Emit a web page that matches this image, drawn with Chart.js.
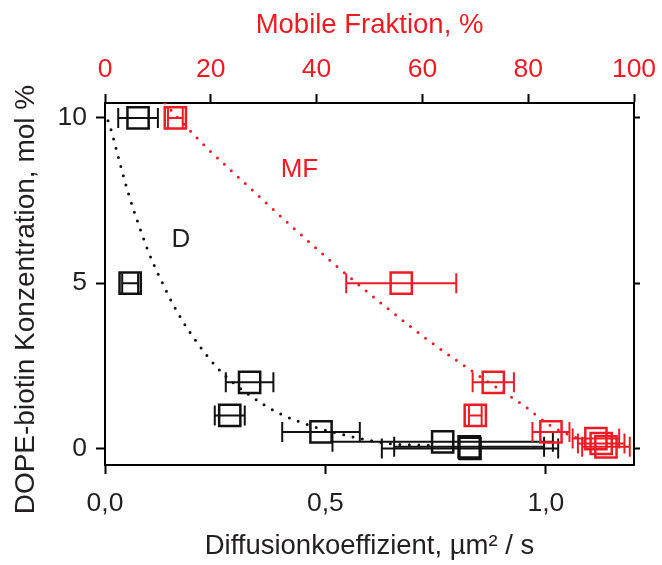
<!DOCTYPE html>
<html>
<head>
<meta charset="utf-8">
<script src="https://cdn.jsdelivr.net/npm/chart.js@4.4.1/dist/chart.umd.min.js"></script>
<style>
  html, body { margin: 0; padding: 0; background: #fff; }
</style>
</head>
<body>
<canvas id="graphique" width="662" height="565"></canvas>
<script>
// Diffusionskoeffizient D (untere Achse)
const dKonz   = [10, 5, 2, 1, 0.5, 0.2, 0, 0.05];
const dWerte  = [0.075, 0.057, 0.328, 0.283, 0.49, 0.766, 0.828, 0.826];
const dFehler = [0.045, 0.018, 0.054, 0.034, 0.088, 0.25, 0.2, 0.17];

// Mobile Fraktion MF (obere Achse)
const mfKonz   = [10, 5, 2, 1, 0.5, 0.3, 0.15, 0.05];
const mfWerte  = [13.3, 56.0, 73.4, 70.0, 84.3, 92.8, 93.8, 94.7];
const mfFehler = [1.4, 10.4, 3.9, 1.2, 3.5, 4.4, 4.4, 4.5];

// gepunktete Anpassungskurven
const dKurveX = [0.0068, 0.0136, 0.036, 0.054, 0.075, 0.097, 0.124, 0.163, 0.21, 0.267, 0.335, 0.391, 0.471, 0.559, 0.645, 0.74];
const dKurveY = [9.91, 9.64, 8.52, 7.67, 6.82, 6.0, 5.18, 4.15, 3.18, 2.27, 1.55, 1.09, 0.67, 0.36, 0.15, 0.09];
const mfKurveX = [11.3, 13.8, 18.9, 26.8, 34.8, 43.1, 52.7, 61.4, 70.3, 79.4, 84.1, 88.5, 92.0];
const mfKurveY = [10.45, 10.0, 9.15, 7.97, 6.79, 5.61, 4.33, 3.24, 2.24, 1.27, 0.70, 0.36, 0.15];

// Achsenbeschriftung
const xTicks = [0, 0.5, 1.0];
const xTickLabels = ['0,0', '0,5', '1,0'];
const x2Ticks = [0, 20, 40, 60, 80, 100];
const yTicks = [0, 5, 10];

const ROT = '#ed1c24';
const SCHWARZ = '#111';
const TEXT = '#231f20';
const FONT = '"Liberation Sans", Arial, sans-serif';

Chart.defaults.font.family = FONT;

const punkte = (xs, ys) => xs.map((x, i) => ({ x: x, y: ys[i] }));

// horizontale Fehlerbalken mit Endstrichen, dazu die Kurvenbeschriftung
const fehlerBalken = {
  id: 'fehlerBalken',
  beforeDatasetsDraw(chart) {
    const ctx = chart.ctx;
    const a = chart.chartArea;
    ctx.save();
    ctx.beginPath();
    ctx.rect(a.left, a.top, a.right - a.left, a.bottom - a.top);
    ctx.clip();
    chart.data.datasets.forEach(ds => {
      if (!ds.fehler) return;
      const xs = chart.scales[ds.xAxisID];
      const ys = chart.scales[ds.yAxisID];
      ctx.strokeStyle = ds.borderColor;
      ctx.lineWidth = 2;
      ds.data.forEach((p, j) => {
        const y = ys.getPixelForValue(p.y);
        const x1 = xs.getPixelForValue(p.x - ds.fehler[j]);
        const x2 = xs.getPixelForValue(p.x + ds.fehler[j]);
        ctx.beginPath();
        ctx.moveTo(x1, y); ctx.lineTo(x2, y);
        ctx.moveTo(x1, y - 10); ctx.lineTo(x1, y + 10);
        ctx.moveTo(x2, y - 10); ctx.lineTo(x2, y + 10);
        ctx.stroke();
      });
    });
    ctx.restore();
  },
  afterDatasetsDraw(chart) {
    const ctx = chart.ctx;
    const x = chart.scales.x, y = chart.scales.y;
    ctx.save();
    ctx.font = '26px ' + FONT;
    ctx.textAlign = 'center';
    ctx.textBaseline = 'middle';
    ctx.fillStyle = ROT;
    ctx.fillText('MF', x.getPixelForValue(0.441), y.getPixelForValue(8.42));
    ctx.fillStyle = TEXT;
    ctx.fillText('D', x.getPixelForValue(0.172), y.getPixelForValue(6.3));
    ctx.restore();
  }
};

// feste Achsenbreiten, damit der Plotrahmen genau sitzt
const achse = (size) => ({
  grid: { drawOnChartArea: false, tickLength: 9, tickWidth: 2, tickColor: '#000' },
  border: { color: '#000', width: 2 },
  afterFit: s => {
    if (s.isHorizontal()) {
      s.height = size;
      s.paddingLeft = 0;
      s.paddingRight = 0;
    } else {
      s.width = size;
      s.paddingTop = 0;
      s.paddingBottom = 0;
    }
  }
});

const ctx = document.getElementById('graphique').getContext('2d');

new Chart(ctx, {
  type: 'scatter',
  data: {
    datasets: [
      {
        label: 'D',
        data: punkte(dWerte, dKonz),
        fehler: dFehler,
        xAxisID: 'x', yAxisID: 'y',
        pointStyle: 'rect', pointRadius: 15, pointBorderWidth: 2.5,
        borderColor: SCHWARZ, backgroundColor: 'rgba(0,0,0,0)'
      },
      {
        label: 'MF',
        data: punkte(mfWerte, mfKonz),
        fehler: mfFehler,
        xAxisID: 'x2', yAxisID: 'y',
        pointStyle: 'rect', pointRadius: 15, pointBorderWidth: 2.5,
        borderColor: ROT, backgroundColor: 'rgba(0,0,0,0)'
      },
      {
        label: 'D Fit',
        data: punkte(dKurveX, dKurveY),
        xAxisID: 'x', yAxisID: 'y',
        showLine: true, pointRadius: 0,
        borderColor: SCHWARZ, borderWidth: 3,
        borderDash: [0, 9.5], borderCapStyle: 'round',
        cubicInterpolationMode: 'monotone'
      },
      {
        label: 'MF Fit',
        data: punkte(mfKurveX, mfKurveY),
        xAxisID: 'x2', yAxisID: 'y',
        showLine: true, pointRadius: 0,
        borderColor: ROT, borderWidth: 3,
        borderDash: [0, 9.5], borderCapStyle: 'round',
        cubicInterpolationMode: 'monotone'
      }
    ]
  },
  options: {
    responsive: false,
    animation: false,
    layout: { padding: 0, autoPadding: false },
    plugins: { legend: { display: false }, tooltip: { enabled: false } },
    scales: {
      x: Object.assign(achse(100), {
        type: 'linear', position: 'bottom', min: 0, max: 1.2,
        afterBuildTicks: s => { s.ticks = xTicks.map(v => ({ value: v })); },
        ticks: {
          callback: v => xTickLabels[xTicks.indexOf(v)],
          color: TEXT, font: { size: 26.5 }, padding: 14, maxRotation: 0, autoSkip: false
        },
        title: {
          display: true, text: 'Diffusionkoeffizient, µm² / s',
          color: TEXT, font: { size: 27.5 }, padding: { top: 0, bottom: 2 }
        }
      }),
      x2: Object.assign(achse(103), {
        type: 'linear', position: 'top', min: 0, max: 100,
        afterBuildTicks: s => { s.ticks = x2Ticks.map(v => ({ value: v })); },
        ticks: { color: ROT, font: { size: 26.5 }, padding: 8, maxRotation: 0, autoSkip: false },
        title: {
          display: true, text: 'Mobile Fraktion, %',
          color: ROT, font: { size: 27.5 }, padding: { top: 9, bottom: 0 }
        }
      }),
      y: Object.assign(achse(105), {
        type: 'linear', position: 'left', min: -0.5, max: 10.45,
        afterBuildTicks: s => { s.ticks = yTicks.map(v => ({ value: v })); },
        ticks: { color: TEXT, font: { size: 26.5 }, padding: 9 },
        title: {
          display: true, text: 'DOPE-biotin Konzentration, mol %    ',
          color: TEXT, font: { size: 28 }, padding: { top: 9, bottom: 0 }
        }
      }),
      y2: Object.assign(achse(28), {
        type: 'linear', position: 'right', min: -0.5, max: 10.45, display: true,
        afterBuildTicks: s => { s.ticks = yTicks.map(v => ({ value: v })); },
        grid: { drawOnChartArea: false, tickLength: 6, tickWidth: 2, tickColor: '#000' },
        ticks: { display: false }
      })
    }
  },
  plugins: [fehlerBalken]
});
</script>
</body>
</html>
